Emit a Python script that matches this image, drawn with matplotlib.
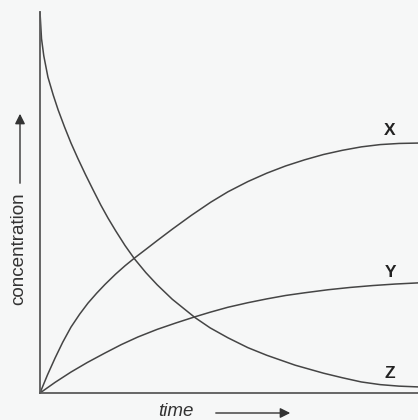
import matplotlib
matplotlib.use("Agg")
import matplotlib.pyplot as plt
from matplotlib.patches import FancyArrowPatch

plt.rcParams['font.family'] = ['Liberation Sans', 'DejaVu Sans']

# time axis (arbitrary units 0..10) and concentrations (arbitrary 0..10)
z_t = [0.0, 0.04, 0.1, 0.21, 0.35, 0.48, 0.65, 0.82, 1.0, 1.2, 1.4, 1.61, 1.8, 2.0, 2.25, 2.5,
       2.8, 3.1, 3.5, 4.1, 4.5, 4.97, 5.5, 6.0, 6.75, 7.5, 8.0, 8.5, 9.0, 9.5, 10.0]
z_c = [10.0, 9.3, 8.85, 8.29, 7.82, 7.43, 6.98, 6.56, 6.16, 5.74, 5.34, 4.93, 4.59, 4.26, 3.87, 3.52,
       3.16, 2.84, 2.46, 1.98, 1.71, 1.45, 1.19, 0.99, 0.73, 0.52, 0.40, 0.29, 0.22, 0.18, 0.16]

x_t = [0.0, 0.2, 0.4, 0.6, 0.82, 1.05, 1.27, 1.5, 1.72, 2.0, 2.25, 2.51, 2.8, 3.1, 3.5, 4.0,
       4.52, 4.97, 5.5, 6.0, 6.5, 7.0, 7.5, 8.0, 8.5, 9.0, 9.5, 10.0]
x_c = [0.0, 0.48, 0.92, 1.33, 1.73, 2.07, 2.36, 2.62, 2.85, 3.12, 3.34, 3.55, 3.77, 4.00, 4.30, 4.66,
       5.01, 5.28, 5.55, 5.77, 5.96, 6.12, 6.26, 6.37, 6.46, 6.52, 6.55, 6.56]

y_t = [0.0, 0.4, 0.82, 1.25, 1.72, 2.15, 2.59, 3.1, 3.6, 4.1, 4.5, 4.97, 5.5, 6.0, 6.5, 7.0,
       7.62, 8.2, 8.8, 9.4, 10.0]
y_c = [0.0, 0.28, 0.55, 0.80, 1.05, 1.27, 1.47, 1.67, 1.84, 2.00, 2.12, 2.25, 2.37, 2.47, 2.56, 2.63,
       2.71, 2.77, 2.82, 2.86, 2.89]

labels = ["X", "Y", "Z"]

W, H = 418, 420
fig = plt.figure(figsize=(W / 100, H / 100), dpi=100)
bg = "#f6f7f7"
fig.patch.set_facecolor(bg)
ax = fig.add_axes([40 / W, (H - 393) / H, (418 - 40) / W, (393 - 12) / H])
ax.set_facecolor(bg)

lc = "#454545"
for t, c in [(z_t, z_c), (x_t, x_c), (y_t, y_c)]:
    ax.plot(t, c, color=lc, lw=1.1, clip_on=False, solid_capstyle="round", solid_joinstyle="round")

ax.set_xlim(0, 10)
ax.set_ylim(0, 10)
ax.set_xticks([])
ax.set_yticks([])
for s in ["top", "right"]:
    ax.spines[s].set_visible(False)
for s in ["left", "bottom"]:
    ax.spines[s].set_color("#5a5a5a")
    ax.spines[s].set_linewidth(1.3)

# curve labels placed just above each curve near the right end
for lab, (t, c), dy in zip(labels, [(x_t, x_c), (y_t, y_c), (z_t, z_c)], [9.5, 8.6, 9.4]):
    ax.annotate(lab, xy=(9.26, c[-2]), xytext=(0, dy), textcoords="offset points",
                ha="center", va="center", fontsize=12.5, fontweight="bold", color="#222222")

# y-axis label with arrow
fig.text(18.5 / W, 1 - 249 / H, "concentration", rotation=90, ha="center", va="center",
         fontsize=13.6, color="#333333")
fig.add_artist(FancyArrowPatch(
    (20 / W, 1 - 186 / H), (20 / W, 1 - 111 / H), transform=fig.transFigure,
    arrowstyle="-|>,head_length=4,head_width=2", color="#333333", lw=1.0, mutation_scale=1.5))

# x-axis label with arrow
fig.text(176 / W, 1 - 411 / H, "time", ha="center", va="center", fontsize=13.5,
         style="italic", color="#333333")
fig.add_artist(FancyArrowPatch(
    (213 / W, 1 - 413 / H), (293 / W, 1 - 413 / H), transform=fig.transFigure,
    arrowstyle="-|>,head_length=4,head_width=2", color="#333333", lw=1.0, mutation_scale=1.5))

fig.savefig("out.png", dpi=100, facecolor=bg)
